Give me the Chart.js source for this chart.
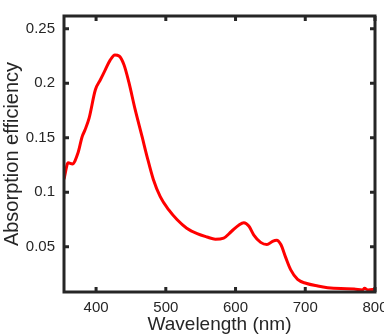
<!DOCTYPE html>
<html>
<head>
<meta charset="utf-8">
<script src="https://cdn.jsdelivr.net/npm/chart.js@4/dist/chart.umd.min.js"></script>
<style>
  html, body { margin: 0; padding: 0; background: #fff; }
  canvas { display: block; }
</style>
</head>
<body>
<canvas id="absChart" width="384" height="336"></canvas>
<script>
// values
const wavelengths = [354, 360, 366, 374, 380, 384, 390, 399, 406, 413,
  420, 427, 433, 440, 447, 456, 466, 473, 482, 492,
  504, 516, 530, 545, 559, 571, 583, 594, 605, 612,
  619, 626, 636, 645, 653, 659, 665, 672, 679, 689,
  701, 718, 732, 751, 770, 782, 785, 790, 800];
const efficiency = [0.112, 0.127, 0.126, 0.136, 0.151, 0.157, 0.168, 0.194, 0.203, 0.212,
  0.221, 0.226, 0.225, 0.217, 0.201, 0.176, 0.151, 0.133, 0.112, 0.096,
  0.084, 0.075, 0.067, 0.062, 0.059, 0.057, 0.058, 0.064, 0.070, 0.072,
  0.069, 0.061, 0.054, 0.052, 0.055, 0.056, 0.052, 0.040, 0.029, 0.020,
  0.0165, 0.014, 0.0125, 0.0116, 0.0113, 0.0104, 0.0119, 0.0104, 0.0112];
const xTicks = [400, 500, 600, 700, 800];
const yTicks = [0.05, 0.1, 0.15, 0.2, 0.25];
const yTickLabels = ['0.05', '0.1', '0.15', '0.2', '0.25'];

const axisColor = '#262626';
const fontFamily = '"Liberation Sans", Arial, Helvetica, sans-serif';

// box around the plot with inward tick marks on all four sides
const frameBox = {
  id: 'frameBox',
  afterDatasetsDraw(chart) {
    const { ctx, chartArea: a, scales } = chart;
    const len = 5;
    ctx.save();
    ctx.strokeStyle = axisColor;
    ctx.lineWidth = 3;
    ctx.lineCap = 'butt';
    ctx.beginPath();
    xTicks.forEach(v => {
      const px = scales.x.getPixelForValue(v);
      ctx.moveTo(px, a.bottom); ctx.lineTo(px, a.bottom - len);
      ctx.moveTo(px, a.top); ctx.lineTo(px, a.top + len);
    });
    yTicks.forEach(v => {
      const py = scales.y.getPixelForValue(v);
      ctx.moveTo(a.left, py); ctx.lineTo(a.left + len, py);
      ctx.moveTo(a.right, py); ctx.lineTo(a.right - len, py);
    });
    ctx.stroke();
    ctx.strokeRect(a.left, a.top, a.right - a.left, a.bottom - a.top);
    ctx.restore();
  }
};

const ctx = document.getElementById('absChart').getContext('2d');
new Chart(ctx, {
  type: 'line',
  data: {
    datasets: [{
      data: wavelengths.map((w, i) => ({ x: w, y: efficiency[i] })),
      borderColor: '#ff0000',
      borderWidth: 3,
      pointRadius: 0,
      fill: false,
      cubicInterpolationMode: 'monotone'
    }]
  },
  options: {
    responsive: false,
    animation: false,
    layout: { padding: { top: 16, right: 9, left: 0, bottom: 0 } },
    plugins: { legend: { display: false }, tooltip: { enabled: false } },
    scales: {
      x: {
        type: 'linear',
        min: 354,
        max: 800,
        grid: { display: false, drawTicks: false },
        border: { display: false },
        afterBuildTicks: s => { s.ticks = xTicks.map(v => ({ value: v })); },
        afterFit: s => { s.height = 44; s.paddingLeft = 0; s.paddingRight = 0; },
        ticks: {
          color: axisColor,
          padding: 7,
          maxRotation: 0,
          font: { family: fontFamily, size: 15 },
          callback: v => String(v)
        },
        title: {
          display: true,
          text: 'Wavelength (nm)',
          color: axisColor,
          padding: 0,
          font: { family: fontFamily, size: 19 }
        }
      },
      y: {
        min: 0.0085,
        max: 0.2617,
        grid: { display: false, drawTicks: false },
        border: { display: false },
        afterBuildTicks: s => { s.ticks = yTicks.map(v => ({ value: v })); },
        afterFit: s => { s.width = 64; s.paddingTop = 0; s.paddingBottom = 0; },
        ticks: {
          color: axisColor,
          padding: 9,
          font: { family: fontFamily, size: 15 },
          callback: (v, i) => yTickLabels[i]
        },
        title: {
          display: true,
          text: 'Absorption efficiency',
          color: axisColor,
          padding: 0,
          font: { family: fontFamily, size: 20 }
        }
      }
    }
  },
  plugins: [frameBox]
});
</script>
</body>
</html>
